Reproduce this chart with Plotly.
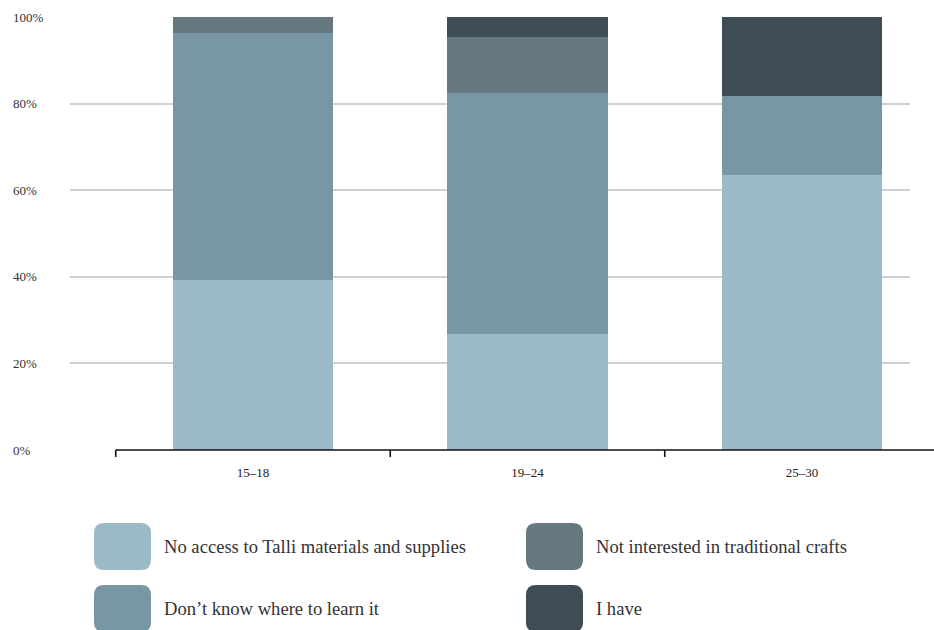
import plotly.graph_objects as go

# Survey answers by age group (share of respondents, %)
age_groups = ["15–18", "19–24", "25–30"]
series_names = [
    "No access to Talli materials and supplies",
    "Don’t know where to learn it",
    "Not interested in traditional crafts",
    "I have",
]
no_access = [39.2, 26.9, 63.5]
dont_know = [57.1, 55.6, 18.3]
not_interested = [3.7, 12.9, 0.0]
i_have = [0.0, 4.6, 18.2]
series_values = [no_access, dont_know, not_interested, i_have]
series_colors = ["#9bbac8", "#7896a3", "#66787f", "#3e4d55"]
y_ticks = [0, 20, 40, 60, 80, 100]
y_tick_labels = ["0%", "20%", "40%", "60%", "80%", "100%"]

FONT = "'Liberation Serif', 'DejaVu Serif', serif"
W, H = 934, 630
M_L, M_R, M_T, M_B = 70, 24, 17, 180
PW, PH = W - M_L - M_R, H - M_T - M_B

# category axis: centres 274 px apart, first at x=253 px
step = 274.5
c0 = 253
x_min = (M_L - c0) / step
x_max = (W - M_R - c0) / step


def px_x(px):
    return (px - M_L) / PW


def px_y(py):
    return (H - M_B - py) / PH


def data_x(d):
    return (d - x_min) / (x_max - x_min)


fig = go.Figure()
for name, vals, col in zip(series_names, series_values, series_colors):
    fig.add_trace(go.Bar(
        x=list(range(len(age_groups))), y=vals, name=name,
        marker=dict(color=col, line=dict(width=0)),
        width=0.585, showlegend=False,
    ))

shapes = []
# baseline running from the first category boundary to the right edge
shapes.append(dict(type="line", xref="paper", yref="paper",
                   x0=data_x(-0.5), x1=px_x(W), y0=0, y1=0,
                   line=dict(color="#111111", width=1.6)))
# boundary ticks between categories
for b in [i - 0.5 for i in range(len(age_groups))]:
    shapes.append(dict(type="line", xref="paper", yref="paper",
                       x0=data_x(b), x1=data_x(b), y0=0, y1=px_y(H - M_B + 7),
                       line=dict(color="#111111", width=1.6)))


def rounded_box(x0p, y0p, x1p, y1p, r=10):
    # rounded rectangle in pixel space converted to paper coordinates
    def P(x, y):
        return f"{px_x(x):.5f},{px_y(y):.5f}"
    return ("M " + P(x0p + r, y0p) + " L " + P(x1p - r, y0p)
            + " Q " + P(x1p, y0p) + " " + P(x1p, y0p + r)
            + " L " + P(x1p, y1p - r)
            + " Q " + P(x1p, y1p) + " " + P(x1p - r, y1p)
            + " L " + P(x0p + r, y1p)
            + " Q " + P(x0p, y1p) + " " + P(x0p, y1p - r)
            + " L " + P(x0p, y0p + r)
            + " Q " + P(x0p, y0p) + " " + P(x0p + r, y0p) + " Z")


annotations = []
# left-aligned percentage labels
for v, t in zip(y_ticks, y_tick_labels):
    annotations.append(dict(text=t, xref="paper", yref="y", x=px_x(11), y=v,
                            xanchor="left", yanchor="middle", showarrow=False,
                            font=dict(family=FONT, size=13, color="#333333")))

# legend: two columns, two rows of large rounded swatches
col_x = [94, 526]
row_y = [523, 585]
box_w, box_h = 57, 47
for i, (name, col) in enumerate(zip(series_names, series_colors)):
    cx = col_x[i // 2]
    ry = row_y[i % 2]
    shapes.append(dict(type="path", xref="paper", yref="paper",
                       path=rounded_box(cx, ry, cx + box_w, ry + box_h),
                       fillcolor=col, line=dict(width=0)))
    annotations.append(dict(text=name, xref="paper", yref="paper",
                            x=px_x(cx + box_w + 11), y=px_y(ry + box_h / 2),
                            xanchor="left", yanchor="middle", showarrow=False,
                            font=dict(family=FONT, size=18.6, color="#333333")))

fig.update_layout(
    width=W, height=H,
    margin=dict(l=M_L, r=M_R, t=M_T, b=M_B, pad=0),
    barmode="stack", bargap=0,
    plot_bgcolor="white", paper_bgcolor="white",
    font=dict(family=FONT, color="#333333"),
    shapes=shapes, annotations=annotations,
    xaxis=dict(range=[x_min, x_max], tickmode="array",
               tickvals=list(range(len(age_groups))), ticktext=age_groups,
               showgrid=False, zeroline=False, showline=False, ticks="",
               ticklabelstandoff=13,
               tickfont=dict(family=FONT, size=13, color="#222222")),
    yaxis=dict(range=[0, 100], tickvals=y_ticks[1:], showticklabels=False,
               showgrid=True, gridcolor="#d0d0d0", gridwidth=1.5,
               zeroline=False, showline=False, ticks=""),
)

fig.write_html("out.html")
